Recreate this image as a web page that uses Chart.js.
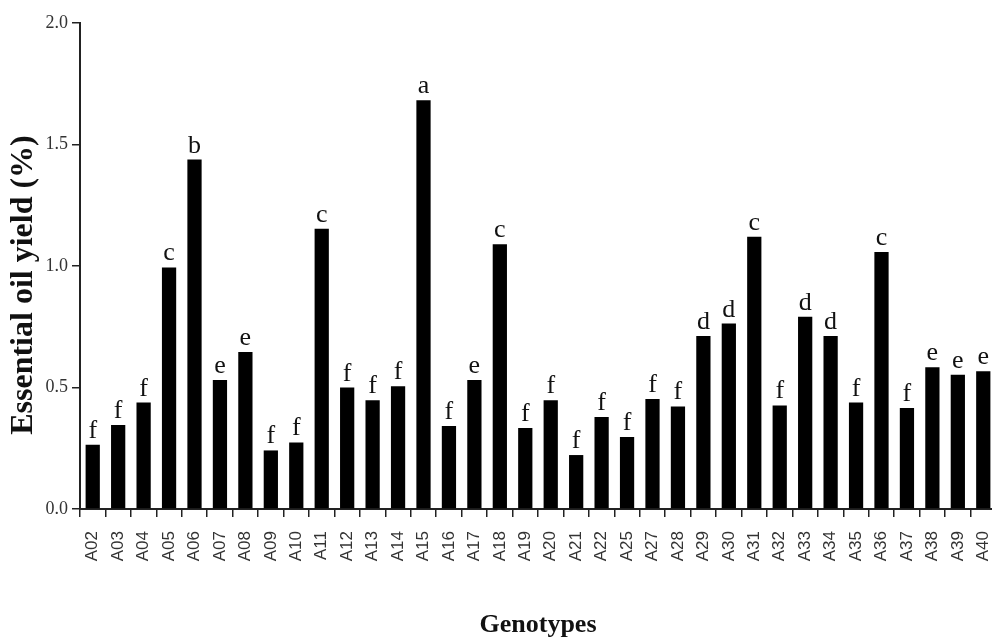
<!DOCTYPE html>
<html>
<head>
<meta charset="utf-8">
<script src="https://cdn.jsdelivr.net/npm/chart.js@4.4.1/dist/chart.umd.min.js"></script>
<style>
  html, body { margin:0; padding:0; background:#fff; overflow:hidden; }
  #wrap { width:996px; height:640px; }
</style>
</head>
<body>
<div id="wrap"><canvas id="oilChart" width="996" height="640"></canvas></div>
<script>
/* ---------- data ---------- */
const genotypes = ['A02','A03','A04','A05','A06','A07','A08','A09','A10','A11','A12','A13',
  'A14','A15','A16','A17','A18','A19','A20','A21','A22','A25','A27','A28','A29','A30',
  'A31','A32','A33','A34','A35','A36','A37','A38','A39','A40'];
const oilYield = [0.264,0.346,0.438,0.994,1.438,0.531,0.646,0.241,0.274,1.153,0.500,0.448,
  0.505,1.682,0.342,0.531,1.090,0.333,0.448,0.222,0.379,0.296,0.453,0.422,0.712,0.763,
  1.120,0.426,0.791,0.712,0.438,1.058,0.416,0.583,0.552,0.567];
const groupLetters = ['f','f','f','c','b','e','e','f','f','c','f','f',
  'f','a','f','e','c','f','f','f','f','f','f','f','d','d',
  'c','f','d','d','f','c','f','e','e','e'];
const yTicks = [0, 0.5, 1.0, 1.5, 2.0];
const yTitle = 'Essential oil yield (%)';
const xTitle = 'Genotypes';

const serif = "'Liberation Serif', 'Times New Roman', serif";

/* letters above bars + axis titles */
const annotate = {
  id: 'annotate',
  afterDatasetsDraw(chart) {
    const ctx = chart.ctx;
    const bars = chart.getDatasetMeta(0).data;
    ctx.save();
    ctx.fillStyle = '#111';
    ctx.font = '26px ' + serif;
    ctx.textAlign = 'center';
    ctx.textBaseline = 'alphabetic';
    bars.forEach((b, i) => ctx.fillText(groupLetters[i], b.x, b.y - 7));
    ctx.restore();
  },
  afterDraw(chart) {
    const ctx = chart.ctx;
    ctx.save();
    ctx.fillStyle = '#111';
    ctx.textAlign = 'center';
    ctx.textBaseline = 'middle';
    ctx.font = 'bold 32px ' + serif;
    ctx.translate(24, 285);
    ctx.rotate(-Math.PI / 2);
    ctx.fillText(yTitle, 0, 0);
    ctx.restore();

    ctx.save();
    ctx.fillStyle = '#111';
    ctx.textAlign = 'center';
    ctx.textBaseline = 'alphabetic';
    ctx.font = 'bold 26px ' + serif;
    ctx.fillText(xTitle, 538, 632);
    ctx.restore();
  }
};

new Chart(document.getElementById('oilChart'), {
  type: 'bar',
  data: {
    labels: genotypes,
    datasets: [{
      data: oilYield,
      backgroundColor: '#000',
      barPercentage: 0.56,
      categoryPercentage: 1.0
    }]
  },
  options: {
    responsive: false,
    animation: false,
    layout: { padding: { top: 23, left: 0, right: 0, bottom: 0 } },
    plugins: { legend: { display: false }, tooltip: { enabled: false } },
    scales: {
      x: {
        afterFit: (s) => { s.height = 131; s.paddingLeft = 0; s.paddingRight = 0; },
        grid: { display: true, drawOnChartArea: false, drawTicks: true, tickLength: 8, color: '#222', lineWidth: 1.5 },
        border: { display: true, color: '#222', width: 2 },
        ticks: {
          color: '#333',
          font: { family: "'Liberation Sans', Arial, sans-serif", size: 17 },
          minRotation: 90, maxRotation: 90, padding: 14, autoSkip: false
        }
      },
      y: {
        min: 0, max: 2,
        afterFit: (s) => { s.width = 80; },
        afterBuildTicks: (s) => { s.ticks = yTicks.map(v => ({ value: v })); },
        grid: { display: true, drawOnChartArea: false, drawTicks: true, tickLength: 8, color: '#222', lineWidth: 1.5 },
        border: { display: true, color: '#222', width: 2 },
        ticks: {
          color: '#333',
          font: { family: serif, size: 18 },
          padding: 4,
          callback: (v) => Number(v).toFixed(1)
        }
      }
    }
  },
  plugins: [annotate]
});
</script>
</body>
</html>
